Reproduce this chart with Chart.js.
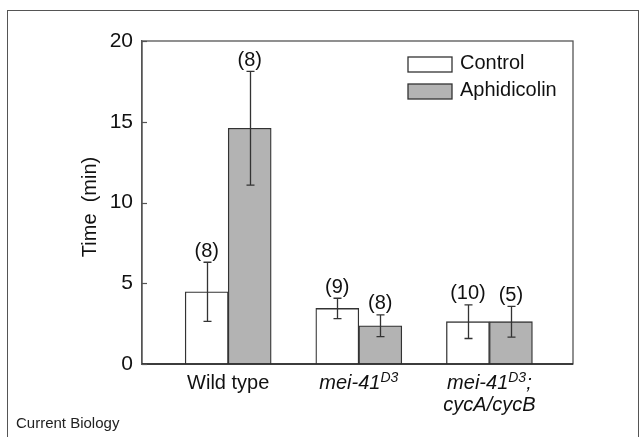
<!DOCTYPE html>
<html>
<head>
<meta charset="utf-8">
<script src="https://cdn.jsdelivr.net/npm/chart.js@4.4.1/dist/chart.umd.min.js"></script>
<style>
  body { margin: 0; background: #fff; }
  #wrap { position: relative; width: 643px; height: 437px; overflow: hidden; }
  #frame {
    position: absolute; left: 7px; top: 10px; width: 630px; height: 440px;
    border: 1px solid #555; border-bottom: none;
  }
  #credit {
    position: absolute; left: 16px; top: 414px;
    font: 15px "Liberation Sans", Arial, sans-serif; color: #222;
  }
  canvas { position: absolute; left: 0; top: 0; }
</style>
</head>
<body>
<div id="wrap">
  <div id="frame"></div>
  <canvas id="chart" width="643" height="437"></canvas>
  <div id="credit">Current Biology</div>
</div>
<script>
const groupPositions = [0, 1, 2];
const seriesNames = ["Control", "Aphidicolin"];
const controlMeans = [4.47, 3.44, 2.62];
const controlErrors = [1.83, 0.63, 1.04];
const aphidicolinMeans = [14.6, 2.37, 2.62];
const aphidicolinErrors = [3.52, 0.67, 0.95];
const controlN = ["(8)", "(9)", "(10)"];
const aphidicolinN = ["(8)", "(8)", "(5)"];
const yTickValues = [0, 5, 10, 15, 20];
const yTitle = "Time  (min)";

const FONT = '"Liberation Sans", Arial, sans-serif';
const errors = [controlErrors, aphidicolinErrors];
const nLabels = [controlN, aphidicolinN];

const toPoints = (values) => values.map((v, i) => ({ x: groupPositions[i], y: v }));

// draw one label piece by piece: [text, italic, superscript]
const drawRich = (ctx, parts, cx, baseline) => {
  let total = 0;
  const widths = parts.map(([text, italic, sup]) => {
    ctx.font = `${italic ? "italic " : ""}${sup ? 14 : 20}px ${FONT}`;
    const w = ctx.measureText(text).width;
    total += w;
    return w;
  });
  let x = cx - total / 2;
  parts.forEach(([text, italic, sup], i) => {
    ctx.font = `${italic ? "italic " : ""}${sup ? 14 : 20}px ${FONT}`;
    ctx.fillText(text, x, sup ? baseline - 7 : baseline);
    x += widths[i];
  });
};

const groupLabels = [
  [[["Wild type", false, false]]],
  [[["mei-41", true, false], ["D3", true, true]]],
  [[["mei-41", true, false], ["D3", true, true], [";", true, false]], [["cycA/cycB", true, false]]],
];

const extrasPlugin = {
  id: "extras",
  afterDatasetsDraw(chart) {
    const { ctx, chartArea: area, scales } = chart;
    const y = scales.y;
    const x = scales.x;
    ctx.save();

    // error bars and n labels
    ctx.strokeStyle = "#333";
    ctx.lineWidth = 1.3;
    ctx.fillStyle = "#111";
    ctx.textAlign = "center";
    ctx.textBaseline = "alphabetic";
    chart.data.datasets.forEach((ds, d) => {
      const meta = chart.getDatasetMeta(d);
      meta.data.forEach((bar, j) => {
        const mean = ds.data[j].y;
        const err = errors[d][j];
        const top = y.getPixelForValue(mean + err);
        const bottom = y.getPixelForValue(mean - err);
        const bx = Math.round(bar.x) + 0.5;
        ctx.beginPath();
        ctx.moveTo(bx, top);
        ctx.lineTo(bx, bottom);
        ctx.moveTo(bx - 4, top);
        ctx.lineTo(bx + 4, top);
        ctx.moveTo(bx - 4, bottom);
        ctx.lineTo(bx + 4, bottom);
        ctx.stroke();
        ctx.font = `20px ${FONT}`;
        ctx.fillText(nLabels[d][j], bar.x, top - 5.5);
      });
    });

    // plot frame
    ctx.strokeStyle = "#555";
    ctx.lineWidth = 1.3;
    ctx.strokeRect(area.left, area.top, area.right - area.left, area.bottom - area.top);
    ctx.strokeStyle = "#222";
    ctx.lineWidth = 1.6;
    ctx.beginPath();
    ctx.moveTo(area.left, area.bottom);
    ctx.lineTo(area.right, area.bottom);
    ctx.stroke();

    // inward tick marks
    ctx.strokeStyle = "#555";
    ctx.lineWidth = 1.2;
    yTickValues.forEach((v) => {
      const py = Math.round(y.getPixelForValue(v)) + 0.5;
      ctx.beginPath();
      ctx.moveTo(area.left, py);
      ctx.lineTo(area.left + 5, py);
      ctx.stroke();
    });

    // category labels
    ctx.fillStyle = "#111";
    ctx.textAlign = "left";
    groupLabels.forEach((lines, i) => {
      const cx = x.getPixelForValue(groupPositions[i]);
      lines.forEach((parts, k) => drawRich(ctx, parts, cx, 389 + k * 22));
    });

    // y title
    ctx.font = `20px ${FONT}`;
    ctx.textAlign = "center";
    ctx.textBaseline = "middle";
    ctx.translate(90, 207);
    ctx.rotate(-Math.PI / 2);
    ctx.fillText(yTitle, 0, 0);
    ctx.setTransform(1, 0, 0, 1, 0, 0);

    // legend
    const fills = ["#ffffff", "#b3b3b3"];
    ctx.textAlign = "left";
    ctx.textBaseline = "alphabetic";
    seriesNames.forEach((name, i) => {
      const top = 57 + i * 27;
      ctx.fillStyle = fills[i];
      ctx.fillRect(408, top, 44, 15);
      ctx.strokeStyle = "#333";
      ctx.lineWidth = 1.3;
      ctx.strokeRect(408, top, 44, 15);
      ctx.fillStyle = "#111";
      ctx.font = `20px ${FONT}`;
      ctx.fillText(name, 460, top + 11 + 0.5);
    });

    ctx.restore();
  },
};

new Chart(document.getElementById("chart"), {
  type: "bar",
  data: {
    datasets: [
      {
        label: seriesNames[0],
        data: toPoints(controlMeans),
        backgroundColor: "#ffffff",
        borderColor: "#333",
        borderWidth: 1.3,
      },
      {
        label: seriesNames[1],
        data: toPoints(aphidicolinMeans),
        backgroundColor: "#b3b3b3",
        borderColor: "#333",
        borderWidth: 1.3,
      },
    ],
  },
  options: {
    responsive: false,
    animation: false,
    devicePixelRatio: 1,
    barThickness: 43,
    layout: { padding: { left: 92, right: 70, top: 41, bottom: 73 } },
    plugins: { legend: { display: false }, tooltip: { enabled: false } },
    scales: {
      x: {
        type: "linear",
        display: false,
        offset: false,
        min: -0.66,
        max: 2.64,
        afterBuildTicks: (scale) => {
          scale.ticks = groupPositions.map((v) => ({ value: v }));
        },
      },
      y: {
        min: 0,
        max: 20,
        afterFit: (scale) => {
          scale.width = 50;
        },
        afterBuildTicks: (scale) => {
          scale.ticks = yTickValues.map((v) => ({ value: v }));
        },
        ticks: {
          color: "#111",
          font: { family: FONT, size: 21 },
          padding: 9,
        },
        grid: { display: false, drawTicks: false },
        border: { display: true, color: "#555", width: 1.3 },
      },
    },
  },
  plugins: [extrasPlugin],
});
</script>
</body>
</html>
